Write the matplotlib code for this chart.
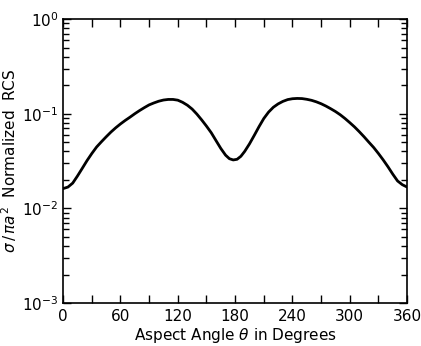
import matplotlib
matplotlib.use("Agg")
import matplotlib.pyplot as plt
from matplotlib.ticker import MultipleLocator, LogLocator, NullFormatter, FixedLocator, FixedFormatter

angles = [0, 5, 10, 15, 20, 25, 30, 35, 40, 45, 50, 55, 60, 65, 70, 75, 80, 85, 90,
          95, 100, 105, 110, 115, 120, 125, 130, 135, 140, 145, 150, 155, 160, 165,
          170, 174, 178, 182, 186, 190, 195, 200, 205, 210, 215, 220, 225, 230, 235,
          240, 245, 250, 255, 260, 265, 270, 275, 280, 285, 290, 295, 300, 305, 310,
          315, 320, 325, 330, 335, 340, 345, 350, 355, 360]
rcs = [0.0162, 0.0168, 0.0185, 0.0220, 0.0265, 0.0320, 0.0380, 0.0445, 0.0505, 0.0570,
       0.0640, 0.0710, 0.0780, 0.0850, 0.0920, 0.1000, 0.1080, 0.1160, 0.1240,
       0.1300, 0.1355, 0.1395, 0.1415, 0.1415, 0.1390, 0.1320, 0.1230, 0.1120,
       0.0990, 0.0860, 0.0740, 0.0630, 0.0520, 0.0430, 0.0365, 0.0335, 0.0325,
       0.0330, 0.0355, 0.0400, 0.0480, 0.0590, 0.0730, 0.0890, 0.1040, 0.1170,
       0.1270, 0.1350, 0.1410, 0.1440, 0.1450, 0.1445, 0.1420, 0.1385, 0.1335,
       0.1275, 0.1205, 0.1130, 0.1055, 0.0975, 0.0890, 0.0805, 0.0725, 0.0645,
       0.0570, 0.0500, 0.0440, 0.0380, 0.0325, 0.0275, 0.0230, 0.0195, 0.0178, 0.0168]

xticks = [0, 60, 120, 180, 240, 300, 360]
ytick_vals = [1e-3, 1e-2, 1e-1, 1e0]
ytick_labels = [r"$10^{-3}$", r"$10^{-2}$", r"$10^{-1}$", r"$10^{0}$"]

plt.rcParams['font.family'] = ['DejaVu Sans']
plt.rcParams['mathtext.fontset'] = 'dejavusans'

fig = plt.figure(figsize=(4.21, 3.46), dpi=100)
ax = fig.add_axes([0.150, 0.124, 0.817, 0.821])
ax.plot(angles, rcs, color='black', lw=2.0, solid_capstyle='round')
ax.set_yscale('log')
ax.set_xlim(0, 360)
ax.set_ylim(1e-3, 1)

ax.xaxis.set_major_locator(FixedLocator(xticks))
ax.xaxis.set_minor_locator(MultipleLocator(30))
ax.yaxis.set_major_locator(FixedLocator(ytick_vals))
ax.yaxis.set_major_formatter(FixedFormatter(ytick_labels))
ax.yaxis.set_minor_locator(LogLocator(base=10, subs=range(2, 10)))
ax.yaxis.set_minor_formatter(NullFormatter())

ax.tick_params(which='both', direction='in', top=True, right=True, width=1.0)
ax.tick_params(which='major', length=6, labelsize=11)
ax.tick_params(which='minor', length=4)
ax.tick_params(axis='x', which='minor', length=6)
ax.tick_params(axis='x', pad=4)
for s in ax.spines.values():
    s.set_linewidth(1.2)

ax.set_xlabel(r"Aspect Angle $\theta$ in Degrees", fontsize=11, labelpad=2)
ax.set_ylabel(r"$\sigma\,/\,\pi a^2$  Normalized  RCS", fontsize=11, labelpad=2)

fig.savefig("out.png", dpi=100)
